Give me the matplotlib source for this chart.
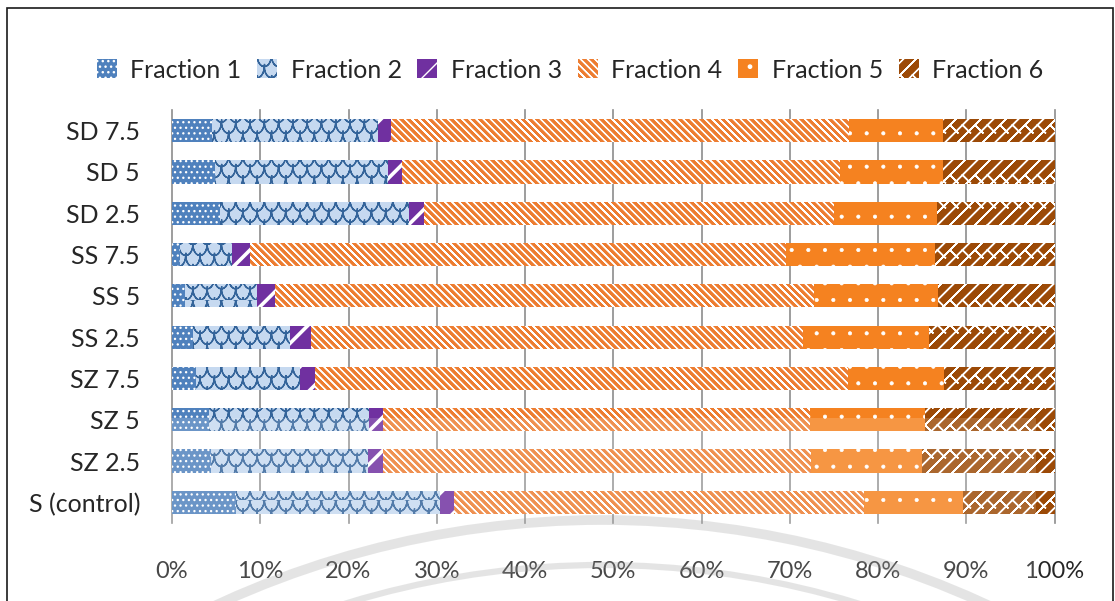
import numpy as np
import matplotlib
matplotlib.use("Agg")
import matplotlib.pyplot as plt
import matplotlib.hatch as mhatch
from matplotlib.patches import Rectangle, Arc
from matplotlib.transforms import Affine2D

# ---- data (percent of total per sample) ----
categories = ['S (control)', 'SZ 2.5', 'SZ 5', 'SZ 7.5', 'SS 2.5',
              'SS 5', 'SS 7.5', 'SD 2.5', 'SD 5', 'SD 7.5']
fraction_1 = [7.3, 4.4, 4.2, 2.7, 2.4, 1.5, 0.9, 5.4, 4.9, 4.5]
fraction_2 = [23.1, 17.8, 18.1, 11.8, 11.0, 8.1, 5.9, 21.4, 19.6, 18.8]
fraction_3 = [1.5, 1.7, 1.6, 1.7, 2.4, 2.1, 2.0, 1.7, 1.6, 1.5]
fraction_4 = [46.5, 48.5, 48.4, 60.4, 55.7, 61.1, 60.8, 46.5, 49.6, 51.9]
fraction_5 = [11.2, 12.6, 13.0, 10.9, 14.3, 14.0, 16.9, 11.7, 11.7, 10.7]
fraction_6 = [10.4, 15.0, 14.7, 12.5, 14.2, 13.2, 13.5, 13.3, 12.6, 12.6]
series_names = ['Fraction 1', 'Fraction 2', 'Fraction 3',
                'Fraction 4', 'Fraction 5', 'Fraction 6']
x_ticks = [0, 10, 20, 30, 40, 50, 60, 70, 80, 90, 100]
x_tick_labels = [f'{v}%' for v in x_ticks]


# ---- extra fill patterns ----
# Agg fills and strokes hatch paths, so open polylines are traced forward
# and back to keep them zero-area (stroke only).
def _polyline(points, verts, codes):
    pts = list(points)
    back = pts[-2::-1]
    verts.extend(pts + back)
    codes.extend([1] + [2] * (len(pts) - 1) + [2] * len(back))


class _CustomHatch(mhatch.HatchPatternBase):
    char = None

    def __init__(self, hatch, density):
        n = hatch.count(self.char)
        verts, codes = [], []
        if n:
            self.build(n, verts, codes)
        self._v = np.array(verts, dtype=float).reshape(-1, 2)
        self._c = np.array(codes, dtype=np.uint8)
        self.num_vertices = len(self._v)

    def set_vertices_and_codes(self, vertices, codes):
        vertices[:] = self._v
        codes[:] = self._c


class ScaleHatch(_CustomHatch):
    """Fish-scale rows, one set per '*'."""
    char = '*'

    def build(self, n, verts, codes):
        cols, rows = 7 * n, 9 * n
        t = np.linspace(0, np.pi, 11)
        for r in range(-1, rows + 2):
            y0 = r / rows
            shift = 0.5 / cols if r % 2 else 0.0
            for c in range(-1, cols + 1):
                x0 = c / cols + shift
                xs = x0 + (1 - np.cos(t)) / (2 * cols)
                ys = y0 - np.sin(t) * (1.0 / rows)
                _polyline(zip(xs, ys), verts, codes)


class BrickHatch(_CustomHatch):
    """Diagonal bricks, one set per 'O'."""
    char = 'O'

    def build(self, n, verts, codes):
        N, M = 8 * n, 4 * n
        for k in range(-N, N + 1):
            off = k / N
            _polyline([(-0.1, -0.1 + off), (1.1, 1.1 + off)], verts, codes)
        for k in range(-N, N + 2):
            off = k / N
            for j in range(-M, M + 1):
                x0 = j / M + (k % 2) * 0.5 / M
                y0 = x0 + off
                x1, y1 = x0 + 0.5 / N, y0 - 0.5 / N
                if max(x0, x1) < -0.05 or min(x0, x1) > 1.05:
                    continue
                if max(y0, y1) < -0.05 or min(y0, y1) > 1.05:
                    continue
                _polyline([(x0, y0), (x1, y1)], verts, codes)


class FineStripeHatch(_CustomHatch):
    """Downward diagonal stripes, 14 per 'o'."""
    char = 'o'

    def build(self, n, verts, codes):
        N = 14 * n
        for k in range(-1, N + 2):
            off = k / N
            _polyline([(-0.1, 1.1 - off), (1.1, -0.1 - off)], verts, codes)
            _polyline([(-0.1, 2.1 - off), (1.1, 0.9 - off)], verts, codes)


mhatch._hatch_types = [h for h in mhatch._hatch_types
                       if h not in (mhatch.Stars, mhatch.LargeCircles,
                                    mhatch.SmallCircles)]
mhatch._hatch_types += [ScaleHatch, BrickHatch, FineStripeHatch]

# face colour, pattern colour, pattern, pattern line width
styles = [
    ('#4F81BD', '#FFFFFF', '...', 0.9),
    ('#C6D9F0', '#34649A', '*', 1.0),
    ('#7030A0', '#FFFFFF', '/', 2.6),
    ('#ED7D31', '#FFFFFF', 'o', 0.95),
    ('#F58220', '#FFFFFF', '.', 0.5),
    ('#9C4A07', '#FFFFFF', 'O', 1.1),
]

plt.rcParams['font.family'] = ['Lato', 'DejaVu Sans']
text_color = '#262626'

W, H = 1115, 601
fig = plt.figure(figsize=(W / 100, H / 100), dpi=100)
ax = fig.add_axes([172 / W, 1 - 523 / H, (1054.5 - 172) / W, 413 / H])

series = [fraction_1, fraction_2, fraction_3, fraction_4, fraction_5, fraction_6]
y = np.arange(len(categories))
left = np.zeros(len(categories))
for name, vals, (fc, hc, hp, hlw) in zip(series_names, series, styles):
    vals = np.asarray(vals, dtype=float)
    with plt.rc_context({'hatch.linewidth': hlw}):
        bars = ax.barh(y, vals, left=left, height=0.56, color=fc,
                       edgecolor=hc, linewidth=0, hatch=hp, label=name,
                       zorder=2)
    for b in bars:
        if hasattr(b, 'set_hatch_linewidth'):
            b.set_hatch_linewidth(hlw)
    left += vals

for v in x_ticks:
    ax.axvline(v, color='#8C8C8C', lw=1.2, zorder=1, clip_on=False)

ax.set_xlim(0, 100)
ax.set_ylim(-0.5, len(categories) - 0.5)
ax.set_xticks(x_ticks)
ax.set_xticklabels(x_tick_labels)
ax.set_yticks(y)
ax.set_yticklabels(categories)
ax.tick_params(axis='both', length=0, labelcolor=text_color)
ax.tick_params(axis='y', pad=23, labelsize=18)
ax.tick_params(axis='x', pad=27, labelsize=17)
for s in ax.spines.values():
    s.set_visible(False)

handles, labels = ax.get_legend_handles_labels()
leg = fig.legend(handles, labels, loc='center', ncol=6,
                 bbox_to_anchor=(570 / W, 1 - 70 / H), frameon=False,
                 fontsize=18, handlelength=0.8, handleheight=0.8,
                 handletextpad=0.55, columnspacing=0.62)
for t in leg.get_texts():
    t.set_color(text_color)

# faint seal watermark near the bottom edge (figure pixel coordinates)
px = Affine2D().scale(1 / W, 1 / H) + fig.transFigure
fig.patches.append(Rectangle((150, 0), 886, H - 418, transform=px,
                             facecolor='white', edgecolor='none',
                             alpha=0.16, zorder=5))
seal_center = (602, H - 1438)
for r, w in ((918, 7), (873, 4.5)):
    fig.patches.append(Arc(seal_center, 2 * r, 2 * r, theta1=60,
                           theta2=120, transform=px, color='#9A9A9A',
                           lw=w, alpha=0.26, zorder=5))

# outer frame
fig.patches.append(Rectangle((7, -30), 1112.5 - 7, H - 8 + 30, transform=px,
                             fill=False, edgecolor='#1A1A1A', lw=1.2,
                             zorder=6))

fig.savefig('out.png', dpi=100)
